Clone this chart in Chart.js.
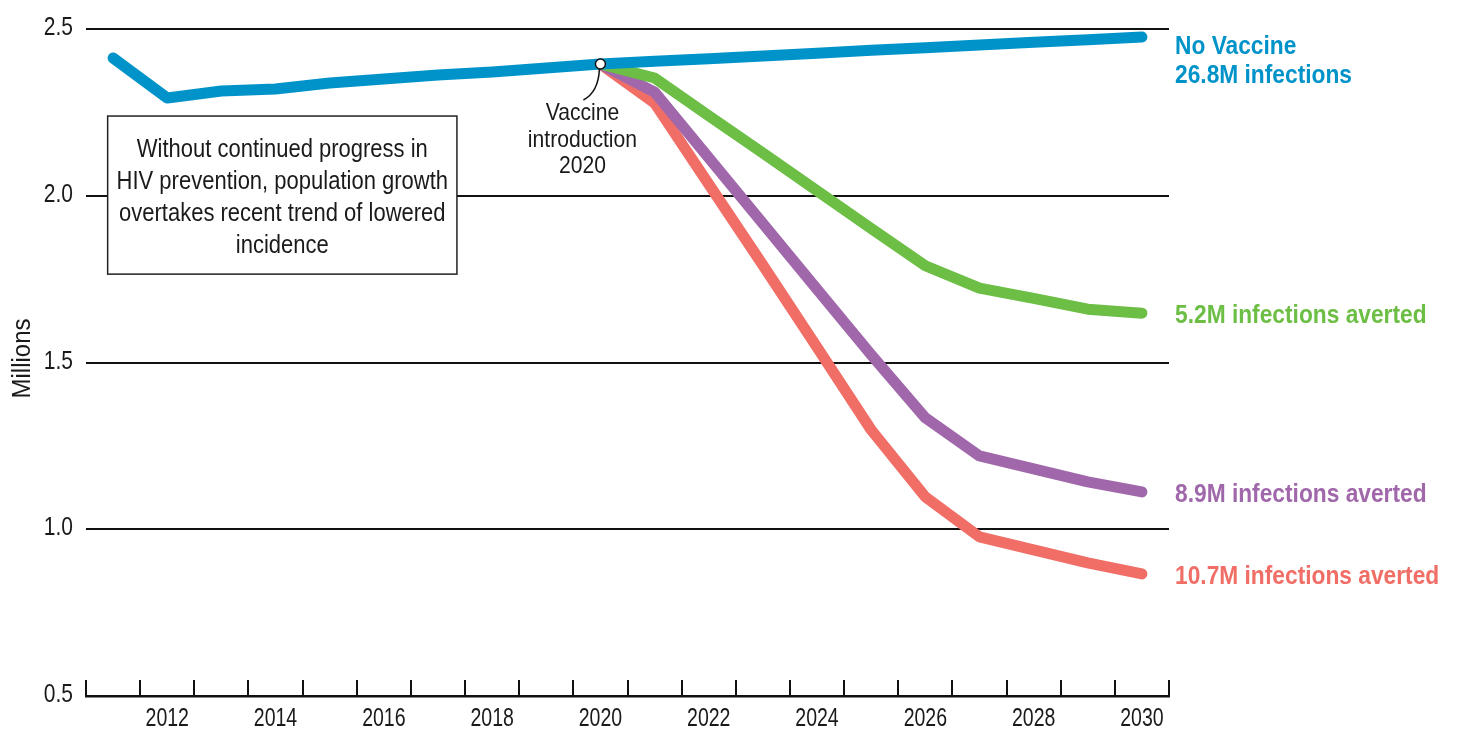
<!DOCTYPE html>
<html><head><meta charset="utf-8">
<script src="https://cdn.jsdelivr.net/npm/chart.js@4.4.0/dist/chart.umd.min.js"></script>
<style>html,body{margin:0;padding:0;background:#fff;}#wrap{width:1458px;height:730px;}</style>
</head><body><div id="wrap"><canvas id="c" width="1458" height="730"></canvas></div>
<script>
const years = ['2011','2012','2013','2014','2015','2016','2017','2018','2019','2020','2021','2022','2023','2024','2025','2026','2027','2028','2029','2030'];
const noVaccine = [2.413,2.293,2.314,2.320,2.338,2.350,2.362,2.371,2.383,2.395,2.403,2.411,2.419,2.427,2.436,2.444,2.452,2.460,2.468,2.476];
const averted52 = [null,null,null,null,null,null,null,null,null,2.395,2.353,2.240,2.128,2.015,1.902,1.790,1.723,1.692,1.660,1.648];
const averted89 = [null,null,null,null,null,null,null,null,null,2.395,2.311,2.114,1.917,1.720,1.523,1.334,1.220,1.181,1.142,1.112];
const averted107 = [null,null,null,null,null,null,null,null,null,2.395,2.278,2.035,1.792,1.546,1.298,1.097,0.977,0.938,0.899,0.866];
const yTicks = [0.5,1.0,1.5,2.0,2.5];
const seriesNames = ['No Vaccine','5.2M infections averted','8.9M infections averted','10.7M infections averted'];
const endLabels = [['No Vaccine','26.8M infections'],['5.2M infections averted'],['8.9M infections averted'],['10.7M infections averted']];
const seriesColors = ['#0093c9','#6cbe45','#a068aa','#f06e66'];
const noteLines = ['Without continued progress in','HIV prevention, population growth','overtakes recent trend of lowered','incidence'];
const vaccineLines = ['Vaccine','introduction','2020'];
const vaccineYear = '2020';
const yTitle = 'Millions';

const FONT = "'Liberation Sans', Arial, sans-serif";
const INK = '#1a1a1a';

function txt(ctx, s, x, y, font, sx, align, color, rot) {
  ctx.save();
  ctx.translate(x, y);
  if (rot) ctx.rotate(rot);
  ctx.scale(sx, 1);
  ctx.font = font; ctx.textAlign = align; ctx.fillStyle = color;
  ctx.fillText(s, 0, 0);
  ctx.restore();
}

const annot = {
  id: 'annot',
  afterDraw(chart) {
    const ctx = chart.ctx, xs = chart.scales.x, ys = chart.scales.y, ca = chart.chartArea;
    ctx.save();
    ctx.textBaseline = 'alphabetic';
    // x tick marks pointing up
    ctx.strokeStyle = '#111'; ctx.lineWidth = 2;
    for (let i = 0; i <= years.length; i++) {
      const x = Math.round(xs.getPixelForValue(i - 0.5));
      ctx.beginPath(); ctx.moveTo(x, ca.bottom); ctx.lineTo(x, ca.bottom - 16); ctx.stroke();
    }
    // x tick labels (even years)
    xs.ticks.forEach((t, i) => {
      const lab = years[t.value];
      if (parseInt(lab) % 2 === 0) txt(ctx, lab, xs.getPixelForValue(t.value), ca.bottom + 30, '25px ' + FONT, 0.78, 'center', INK);
    });
    // y tick labels
    ys.ticks.forEach(t => {
      txt(ctx, Number(t.value).toFixed(1), ca.left - 13, ys.getPixelForValue(t.value) + 6, '25px ' + FONT, 0.84, 'right', INK);
    });
    // y title
    txt(ctx, yTitle, 30, (ca.top + ca.bottom) / 2 - 4, '25px ' + FONT, 0.96, 'center', INK, -Math.PI / 2);
    // note box
    const bl = xs.getPixelForValue(-0.1), br = xs.getPixelForValue(6.35);
    const bt = ys.getPixelForValue(2.239), bb = ys.getPixelForValue(1.765);
    ctx.fillStyle = '#fff'; ctx.fillRect(bl, bt, br - bl, bb - bt);
    ctx.strokeStyle = '#222'; ctx.lineWidth = 1.5; ctx.strokeRect(bl, bt, br - bl, bb - bt);
    noteLines.forEach((t, i) => txt(ctx, t, (bl + br) / 2, bt + 41 + i * 32, '25px ' + FONT, 0.88, 'center', INK));
    // vaccine marker
    const vi = years.indexOf(vaccineYear);
    const vx = xs.getPixelForValue(vi), vy = ys.getPixelForValue(noVaccine[vi]);
    ctx.strokeStyle = '#111'; ctx.lineWidth = 1.5;
    ctx.beginPath(); ctx.moveTo(vx - 1, vy + 5); ctx.quadraticCurveTo(vx - 2, vy + 28, vx - 17, vy + 36); ctx.stroke();
    ctx.beginPath(); ctx.arc(vx, vy, 5, 0, Math.PI * 2); ctx.fillStyle = '#fff'; ctx.fill(); ctx.stroke();
    vaccineLines.forEach((t, i) => txt(ctx, t, vx - 18, vy + 56 + i * 26.5, '24px ' + FONT, 0.88, 'center', INK));
    // end labels
    const sets = [noVaccine, averted52, averted89, averted107];
    sets.forEach((arr, k) => {
      const ey = ys.getPixelForValue(arr[arr.length - 1]);
      const lines = endLabels[k];
      const off = lines.length > 1 ? 17 : 10;
      lines.forEach((t, i) => txt(ctx, t, ca.right + 6, ey + off + i * 29, 'bold 26px ' + FONT, 0.875, 'left', seriesColors[k]));
    });
    ctx.restore();
  }
};

function ds(label, data, color) {
  return { label, data, borderColor: color, backgroundColor: color, borderWidth: 11,
    borderCapStyle: 'round', borderJoinStyle: 'round', pointRadius: 0, tension: 0, fill: false, spanGaps: false };
}

new Chart(document.getElementById('c'), {
  type: 'line',
  data: {
    labels: years,
    datasets: [
      ds(seriesNames[0], noVaccine, seriesColors[0]),
      ds(seriesNames[1], averted52, seriesColors[1]),
      ds(seriesNames[2], averted89, seriesColors[2]),
      ds(seriesNames[3], averted107, seriesColors[3])
    ]
  },
  options: {
    responsive: false, animation: false, devicePixelRatio: 1,
    layout: { padding: { top: 29, right: 289, bottom: 0, left: 0 } },
    plugins: { legend: { display: false }, tooltip: { enabled: false } },
    scales: {
      x: {
        type: 'category', offset: true,
        grid: { display: false, offset: true },
        border: { display: true, color: '#111', width: 2.5 },
        ticks: { display: false, autoSkip: false },
        afterFit: s => { s.height = 34; }
      },
      y: {
        min: 0.5, max: 2.5,
        afterBuildTicks: s => { s.ticks = yTicks.map(v => ({ value: v })); },
        grid: { color: '#111', lineWidth: 2, drawTicks: false },
        border: { display: false },
        ticks: { display: false },
        title: { display: false },
        afterFit: s => { s.width = 86; }
      }
    }
  },
  plugins: [annot]
});
</script></body></html>
